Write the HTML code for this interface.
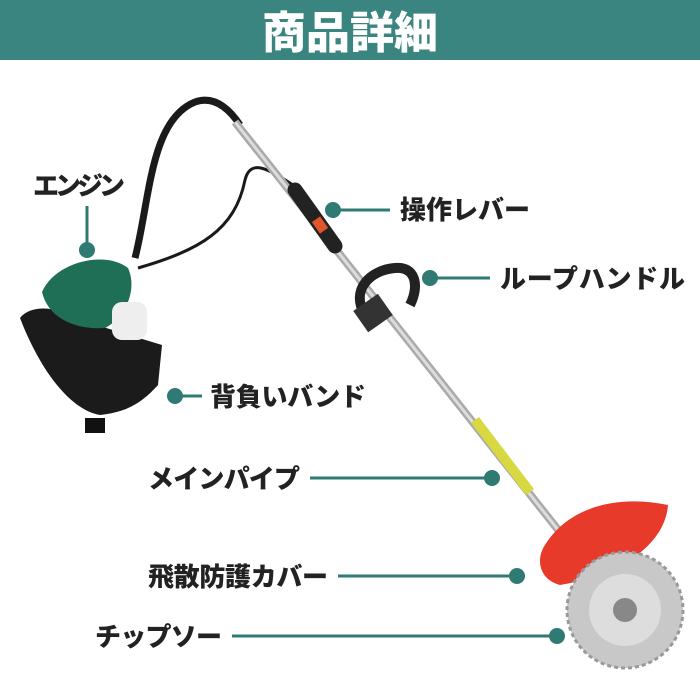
<!DOCTYPE html>
<html><head><meta charset="utf-8"><style>
html,body{margin:0;padding:0;background:#fff;}
svg{display:block}
text{font-family:"Liberation Sans","Noto Sans CJK JP",sans-serif;font-weight:900;}
</style></head><body>
<svg width="700" height="700" viewBox="0 0 700 700" xmlns="http://www.w3.org/2000/svg">
<rect width="700" height="700" fill="#fff"/>
<rect x="0" y="0" width="700" height="60" fill="#3a857f"/>
<text x="350" y="48" text-anchor="middle" font-size="44" fill="#fff">商品詳細</text>

<!-- hose -->
<path d="M135 258 C150 200 150 120 195 102 C215 95 230 110 240 125" stroke="#1a1a1a" stroke-width="7" fill="none"/>
<path d="M138 268 C200 250 235 230 245 180 C250 160 265 165 300 190" stroke="#1a1a1a" stroke-width="3" fill="none"/>
<!-- main pipe -->
<line x1="235" y1="122" x2="620" y2="608" stroke="#aaa" stroke-width="8"/>
<line x1="235" y1="122" x2="620" y2="608" stroke="#ddd" stroke-width="3"/>
<!-- throttle grip -->
<line x1="295" y1="190" x2="335" y2="246" stroke="#222" stroke-width="15" stroke-linecap="round"/>
<rect x="315" y="218" width="10" height="14" fill="#e0552a" transform="rotate(-35 320 225)"/>
<!-- loop handle -->
<path d="M365 315 C350 290 370 270 395 268 C415 266 420 285 410 305" stroke="#222" stroke-width="10" fill="none"/>
<rect x="358" y="300" width="30" height="26" fill="#333" transform="rotate(-35 373 313)"/>
<!-- yellow sticker -->
<line x1="475" y1="420" x2="530" y2="492" stroke="#d8d840" stroke-width="10"/>
<!-- guard -->
<path d="M545 545 C570 505 620 495 668 505 C665 545 620 575 560 585 C540 580 535 560 545 545Z" fill="#e83a2a"/>
<!-- blade -->
<circle cx="625" cy="610" r="58" fill="#c8c8c8" stroke="#999" stroke-width="3" stroke-dasharray="4 3"/>
<circle cx="625" cy="610" r="36" fill="#ddd"/>
<circle cx="625" cy="610" r="12" fill="#888"/>
<!-- engine -->
<path d="M20 318 C30 305 55 305 80 320 L162 345 L158 385 C140 405 125 412 100 415 C70 410 40 370 20 318Z" fill="#1b1b1b"/>
<path d="M42 292 C55 262 105 250 128 268 C138 290 125 318 105 328 C75 330 48 318 42 292Z" fill="#1f6e56"/>
<rect x="112" y="302" width="35" height="38" rx="10" fill="#eee"/>
<rect x="85" y="418" width="20" height="15" fill="#111"/>

<!-- labels -->
<g fill="#2f7a73">
<circle cx="87" cy="250" r="8"/><rect x="85.5" y="206" width="3" height="40"/>
<circle cx="333" cy="210" r="8"/><rect x="333" y="208.5" width="57" height="3"/>
<circle cx="430" cy="278" r="8"/><rect x="430" y="276.5" width="60" height="3"/>
<circle cx="175" cy="396" r="8"/><rect x="175" y="394.5" width="27" height="3"/>
<circle cx="492" cy="478" r="8"/><rect x="310" y="476.5" width="182" height="3"/>
<circle cx="517" cy="576" r="8"/><rect x="338" y="574.5" width="179" height="3"/>
<circle cx="557" cy="636" r="8"/><rect x="232" y="634.5" width="325" height="3"/>
</g>
<g font-size="26" fill="#222">
<text x="33" y="195" textLength="92">エンジン</text>
<text x="400" y="219" textLength="130">操作レバー</text>
<text x="500" y="288" textLength="185">ループハンドル</text>
<text x="210" y="406" textLength="156">背負いバンド</text>
<text x="148" y="488" textLength="152">メインパイプ</text>
<text x="148" y="586" textLength="180">飛散防護カバー</text>
<text x="95" y="646" textLength="127">チップソー</text>
</g>
</svg>
</body></html>
